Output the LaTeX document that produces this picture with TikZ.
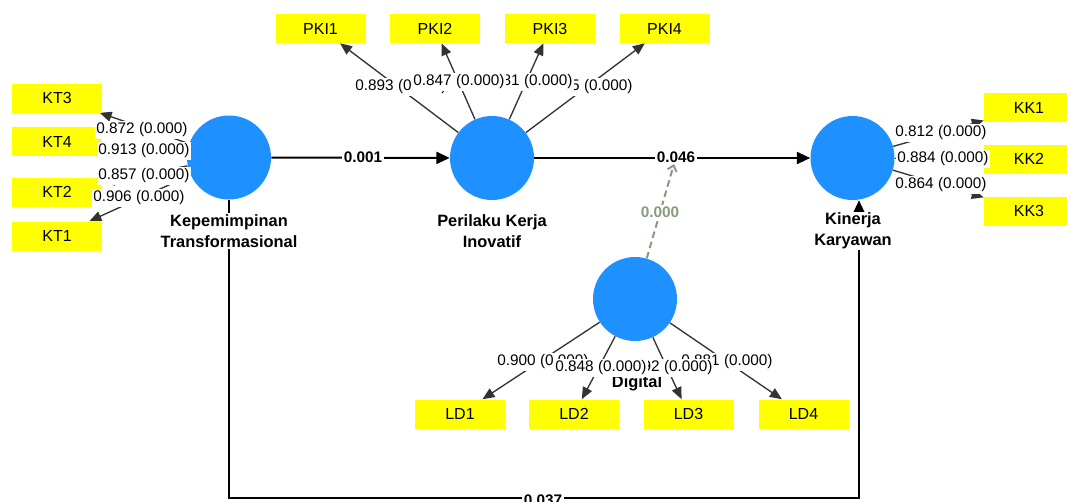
\documentclass[tikz,border=0pt]{standalone}
\usepackage{fontspec}
\setmainfont{Liberation Sans}
\usetikzlibrary{arrows.meta,backgrounds}

\definecolor{lvblue}{RGB}{30,144,255}
\definecolor{mvyellow}{RGB}{255,255,0}
\definecolor{modgreen}{RGB}{135,155,128}

\tikzset{
  latent/.style={circle,fill=lvblue,minimum size=63pt,inner sep=0pt},
  indicator/.style={fill=mvyellow,minimum width=67.5pt,minimum height=21.75pt,inner sep=0pt,font=\fontsize{12}{14}\selectfont},
  lvname/.style={fill=white,align=center,inner sep=1pt,font=\fontsize{12.3}{15.5}\selectfont\bfseries},
  loading/.style={fill=white,inner sep=1.2pt,font=\fontsize{11.5}{13}\selectfont},
  coef/.style={fill=white,inner sep=1pt,font=\fontsize{11.5}{13}\selectfont\bfseries},
  loadarrow/.style={draw=black!80,line width=1pt,-{Triangle[length=9pt,width=7.5pt]}},
  patharrow/.style={draw=black,line width=1.5pt,-{Triangle[length=10pt,width=9pt]}},
  modarrow/.style={draw=modgreen,line width=1.5pt,dash pattern=on 5pt off 3pt,-{Straight Barb[length=4pt,width=7pt]}}
}

\begin{document}
\begin{tikzpicture}[x=0.75pt,y=0.75pt,yscale=-1,xscale=1]
\useasboundingbox (0,0) rectangle (1067,501);
\clip (0,0) rectangle (1067,501);

%Latent variables
\node[latent] (kt) at (229,157.5) {};
\node[latent] (pki) at (492,158) {};
\node[latent] (kk) at (852.5,158) {};
\node[latent] (ld) at (635,299) {};

%Indicators
\node[indicator] (pki1) at (320.5,28.5) {PKI1};
\node[indicator] (pki2) at (435,28.5) {PKI2};
\node[indicator] (pki3) at (550,28.5) {PKI3};
\node[indicator] (pki4) at (664.5,28.5) {PKI4};
\node[indicator] (kt3) at (57,98) {KT3};
\node[indicator] (kt4) at (57,141.5) {KT4};
\node[indicator] (kt2) at (57,192) {KT2};
\node[indicator] (kt1) at (57,236) {KT1};
\node[indicator] (kk1) at (1029,107.5) {KK1};
\node[indicator] (kk2) at (1029,159) {KK2};
\node[indicator] (kk3) at (1029,211) {KK3};
\node[indicator] (ld1) at (460,414) {LD1};
\node[indicator] (ld2) at (574,414) {LD2};
\node[indicator] (ld3) at (688.5,414) {LD3};
\node[indicator] (ld4) at (803.5,414) {LD4};

%Names
\node[lvname] (kt name) at (229,231) {Kepemimpinan\\Transformasional};
\node[lvname] (pki name) at (492,231) {Perilaku Kerja\\Inovatif};
\node[lvname] (kk name) at (853,231) {Kinerja\\Karyawan};
\node[lvname] (ld name) at (637,383) {Digital};

%Path coefficients
\node[coef] (c1) at (363,157) {0.001};
\node[coef] (c2) at (676,157) {0.046};
\node[coef] (c3) at (543,500) {0.037};
\node[coef,text=modgreen] (c4) at (660,212) {0.000};

%Outer loadings
\node[loading] (l-kt3) at (142,130) {0.872 (0.000)};
\node[loading] (l-kt4) at (144,151) {0.913 (0.000)};
\node[loading] (l-kt2) at (144,176) {0.857 (0.000)};
\node[loading] (l-kt1) at (139,198) {0.906 (0.000)};
\node[loading] (l-pki1) at (401,87) {0.893 (0.000)};
\node[loading] (l-pki4) at (587,87) {0.865 (0.000)};
\node[loading] (l-pki3) at (527,82) {0.881 (0.000)};
\node[loading] (l-pki2) at (459,82) {0.847 (0.000)};
\node[loading] (l-kk1) at (941,133) {0.812 (0.000)};
\node[loading] (l-kk2) at (943,159) {0.884 (0.000)};
\node[loading] (l-kk3) at (941,185) {0.864 (0.000)};
\node[loading] (l-ld1) at (543,362) {0.900 (0.000)};
\node[loading] (l-ld4) at (727,362) {0.881 (0.000)};
\node[loading] (l-ld3) at (667,368) {0.892 (0.000)};
\node[loading] (l-ld2) at (601,368) {0.848 (0.000)};

\coordinate (kt bend) at (229,498);
\coordinate (kk bend) at (859,498);

\begin{scope}[on background layer]
\foreach \i in {1,...,4} {
  \draw[loadarrow] (kt) -- (kt\i);
  \draw[loadarrow] (pki) -- (pki\i);
  \draw[loadarrow] (ld) -- (ld\i);
}
\foreach \i in {1,2,3} \draw[loadarrow] (kk) -- (kk\i);

\draw[patharrow] (kt) -- (pki);
\draw[patharrow] (pki) -- (kk);
\draw[patharrow] (kt.south) -- (kt bend) -- (kk bend) -- (kk bend |- kk.south);
\draw[modarrow] (ld) -- (c2);
\end{scope}

\end{tikzpicture}
\end{document}
